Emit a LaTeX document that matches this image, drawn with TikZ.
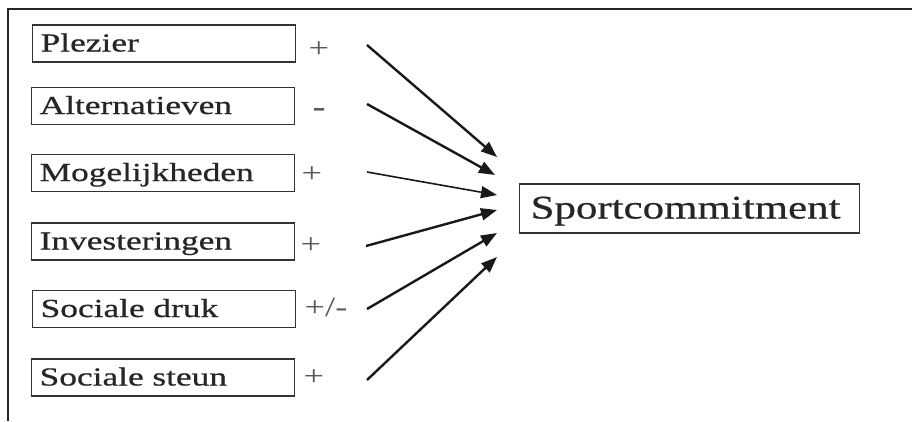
\documentclass[tikz,border=0pt]{standalone}
\usepackage{fontspec}
\usetikzlibrary{arrows.meta}
\newfontfamily\boxfont{Liberation Serif}[FakeStretch=1.36,FakeBold=0.6]
\newfontfamily\bigfont{Liberation Serif}[FakeStretch=1.3,FakeBold=0.6]
\newfontfamily\signfont{Liberation Serif}[FakeStretch=1.3]
\begin{document}
\begin{tikzpicture}[x=1pt,y=-1pt,
  src/.style={draw=black!80, line width=1.3pt, rectangle, anchor=west,
    minimum width=263pt, minimum height=37pt, text width=247pt, inner xsep=8pt,
    align=left, font=\boxfont\fontsize{26}{30}\selectfont,
    text height=18pt, text depth=2pt, text=black!85},
  tgt/.style={draw=black!80, line width=1.3pt, rectangle, anchor=west,
    minimum width=340pt, minimum height=49pt, text width=318pt, inner xsep=11pt,
    align=left, font=\bigfont\fontsize{33}{38}\selectfont,
    text height=23pt, text depth=3pt, text=black!85},
  sign/.style={font=\signfont\fontsize{28}{32}\selectfont, text=black!65, inner sep=0pt},
  arr/.style={line width=2.4pt, black!90, -{Triangle[length=16pt,width=12pt]}},
  arrthin/.style={line width=1.6pt, black!90, -{Triangle[length=16pt,width=12pt]}}
]
\useasboundingbox (0,0) rectangle (912,421);
\fill[white] (0,0) rectangle (912,421);
\draw[line width=1.5pt, black!85] (912,9) -- (8,9) -- (8,421);

\node[src] (P) at (32,43.5) {Plezier};
\node[src] (A) at (31,106) {Alternatieven};
\node[src] (M) at (31,173) {Mogelijkheden};
\node[src] (I) at (31,241.5) {Investeringen};
\node[src] (D) at (32,309) {Sociale druk};
\node[src] (S) at (31,377.5) {Sociale steun};

\node[tgt] (T) at (519,208.5) {Sportcommitment};

\node[sign] (sP) at (319,50) {+};
\node[sign, font=\boxfont\fontsize{28}{32}\selectfont] (sA) at (319,112) {-};
\node[sign] (sM) at (312,175) {+};
\node[sign] (sI) at (311,246) {+};
\node[sign] (sD) at (326,307) {+/-};
\node[sign] (sS) at (314,378) {+};

\coordinate (a1) at (367,45);
\coordinate (a2) at (367,104);
\coordinate (a3) at (367,172);
\coordinate (a4) at (366,246);
\coordinate (a5) at (367,309);
\coordinate (a6) at (367,380);
\coordinate (b1) at (497,157);
\coordinate (b2) at (495,175);
\coordinate (b3) at (497,195);
\coordinate (b4) at (497,210);
\coordinate (b5) at (497,233);
\coordinate (b6) at (497,257);

\draw[arr] (a1) -- (b1);
\draw[arr] (a2) -- (b2);
\draw[arrthin] (a3) -- (b3);
\draw[arr] (a4) -- (b4);
\draw[arr] (a5) -- (b5);
\draw[arr] (a6) -- (b6);
\end{tikzpicture}
\end{document}
